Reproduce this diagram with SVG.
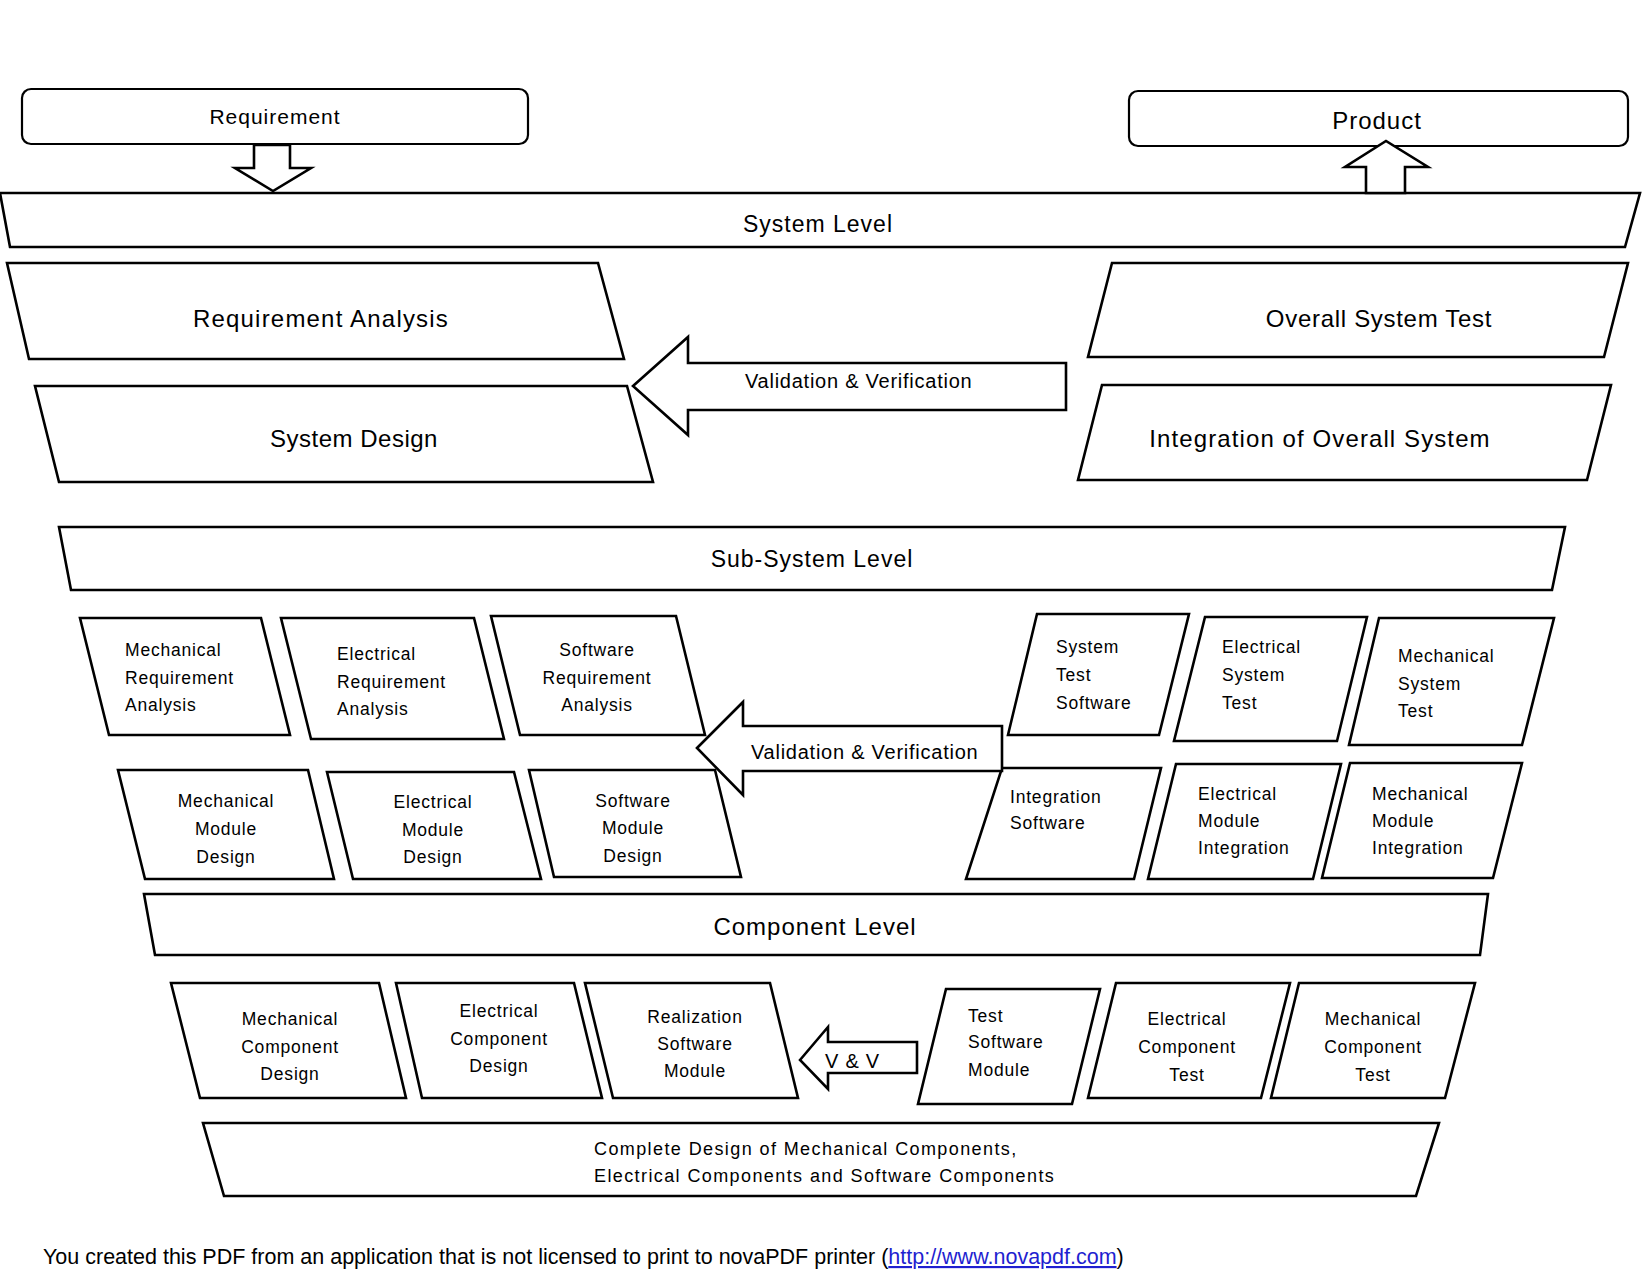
<svg xmlns="http://www.w3.org/2000/svg" width="1650" height="1275" viewBox="0 0 1650 1275">
<style>
.s{fill:#fff;stroke:#000;stroke-width:2.6;stroke-linejoin:miter}
.r{fill:#fff;stroke:#000;stroke-width:2.2}
.t{font-family:"Liberation Sans",Arial,sans-serif;fill:#000}
.big{font-size:24px;letter-spacing:0.9px}
.lvl{font-size:23px;letter-spacing:1px}
.vv{font-size:20px;letter-spacing:0.75px}
.sm{font-size:17.5px;letter-spacing:0.8px}
.cd{font-size:18px;letter-spacing:1.4px}
.m{text-anchor:middle}
.foot{font-size:21.5px}
</style>
<rect width="1650" height="1275" fill="#fff"/>

<g id="requirement">
<rect class="r" x="22" y="89" width="506" height="55" rx="9"/>
<text class="t m" x="275" y="124" style="font-size:21px;letter-spacing:1px">Requirement</text>
</g>
<g id="product">
<rect class="r" x="1129" y="91" width="499" height="55" rx="9"/>
<text class="t m" x="1377" y="129" style="font-size:24px;letter-spacing:1px">Product</text>
</g>

<g id="system-level">
<polygon class="s" points="0,193 1640,193 1625,247 10,247"/>
<text class="t lvl m" x="818" y="232">System Level</text>
</g>
<g id="requirement-analysis">
<polygon class="s" points="7,263 598,263 624,359 29,359"/>
<text class="t big m" x="321" y="327" style="letter-spacing:1.2px">Requirement Analysis</text>
</g>
<g id="system-design">
<polygon class="s" points="35,386 627,386 653,482 59,482"/>
<text class="t big m" x="354" y="447" style="letter-spacing:0.5px">System Design</text>
</g>
<g id="overall-system-test">
<polygon class="s" points="1112,263 1628,263 1604,357 1088,357"/>
<text class="t big m" x="1379" y="327" style="letter-spacing:0.7px">Overall System Test</text>
</g>
<g id="integration-overall-system">
<polygon class="s" points="1102,385 1611,385 1587,480 1078,480"/>
<text class="t big m" x="1320" y="447" style="letter-spacing:1.1px">Integration of Overall System</text>
</g>

<g id="sub-system-level">
<polygon class="s" points="59,527 1565,527 1552,590 71,590"/>
<text class="t lvl m" x="812" y="567">Sub-System Level</text>
</g>
<g id="mech-req-analysis">
<polygon class="s" points="80,618 261,618 290,735 109,735"/>
<text class="t sm"><tspan x="125" y="656">Mechanical</tspan><tspan x="125" y="684">Requirement</tspan><tspan x="125" y="711">Analysis</tspan></text>
</g>
<g id="elec-req-analysis">
<polygon class="s" points="281,618 474,618 504,739 311,739"/>
<text class="t sm"><tspan x="337" y="660">Electrical</tspan><tspan x="337" y="688">Requirement</tspan><tspan x="337" y="715">Analysis</tspan></text>
</g>
<g id="soft-req-analysis">
<polygon class="s" points="491,616 676,616 705,735 520,735"/>
<text class="t sm m"><tspan x="597" y="656">Software</tspan><tspan x="597" y="684">Requirement</tspan><tspan x="597" y="711">Analysis</tspan></text>
</g>
<g id="mech-module-design">
<polygon class="s" points="118,770 308,770 334,879 145,879"/>
<text class="t sm m"><tspan x="226" y="807">Mechanical</tspan><tspan x="226" y="835">Module</tspan><tspan x="226" y="863">Design</tspan></text>
</g>
<g id="elec-module-design">
<polygon class="s" points="327,772 514,772 541,879 353,879"/>
<text class="t sm m"><tspan x="433" y="808">Electrical</tspan><tspan x="433" y="836">Module</tspan><tspan x="433" y="863">Design</tspan></text>
</g>
<g id="soft-module-design">
<polygon class="s" points="529,770 715,770 741,877 554,877"/>
<text class="t sm m"><tspan x="633" y="807">Software</tspan><tspan x="633" y="834">Module</tspan><tspan x="633" y="862">Design</tspan></text>
</g>
<g id="system-test-software">
<polygon class="s" points="1037,614 1189,614 1159,735 1008,735"/>
<text class="t sm"><tspan x="1056" y="653">System</tspan><tspan x="1056" y="681">Test</tspan><tspan x="1056" y="709">Software</tspan></text>
</g>
<g id="elec-system-test">
<polygon class="s" points="1205,617 1367,617 1337,741 1174,741"/>
<text class="t sm"><tspan x="1222" y="653">Electrical</tspan><tspan x="1222" y="681">System</tspan><tspan x="1222" y="709">Test</tspan></text>
</g>
<g id="mech-system-test">
<polygon class="s" points="1379,618 1554,618 1522,745 1349,745"/>
<text class="t sm"><tspan x="1398" y="662">Mechanical</tspan><tspan x="1398" y="690">System</tspan><tspan x="1398" y="717">Test</tspan></text>
</g>
<g id="integration-software">
<polygon class="s" points="1002,768 1161,768 1134,879 966,879"/>
<text class="t sm"><tspan x="1010" y="803">Integration</tspan><tspan x="1010" y="829">Software</tspan></text>
</g>
<g id="elec-module-integration">
<polygon class="s" points="1176,764 1341,764 1313,879 1148,879"/>
<text class="t sm"><tspan x="1198" y="800">Electrical</tspan><tspan x="1198" y="827">Module</tspan><tspan x="1198" y="854">Integration</tspan></text>
</g>
<g id="mech-module-integration">
<polygon class="s" points="1350,763 1522,763 1493,878 1322,878"/>
<text class="t sm"><tspan x="1372" y="800">Mechanical</tspan><tspan x="1372" y="827">Module</tspan><tspan x="1372" y="854">Integration</tspan></text>
</g>

<g id="component-level">
<polygon class="s" points="144,894 1488,894 1480,955 155,955"/>
<text class="t lvl m" x="815" y="935" style="font-size:24px">Component Level</text>
</g>
<g id="mech-component-design">
<polygon class="s" points="171,983 379,983 406,1098 200,1098"/>
<text class="t sm m"><tspan x="290" y="1025">Mechanical</tspan><tspan x="290" y="1053">Component</tspan><tspan x="290" y="1080">Design</tspan></text>
</g>
<g id="elec-component-design">
<polygon class="s" points="396,983 574,983 602,1098 422,1098"/>
<text class="t sm m"><tspan x="499" y="1017">Electrical</tspan><tspan x="499" y="1045">Component</tspan><tspan x="499" y="1072">Design</tspan></text>
</g>
<g id="realization-software-module">
<polygon class="s" points="585,983 770,983 798,1098 613,1098"/>
<text class="t sm m"><tspan x="695" y="1023">Realization</tspan><tspan x="695" y="1050">Software</tspan><tspan x="695" y="1077">Module</tspan></text>
</g>
<g id="test-software-module">
<polygon class="s" points="946,989 1100,989 1072,1104 918,1104"/>
<text class="t sm"><tspan x="968" y="1022">Test</tspan><tspan x="968" y="1048">Software</tspan><tspan x="968" y="1076">Module</tspan></text>
</g>
<g id="elec-component-test">
<polygon class="s" points="1116,983 1290,983 1261,1098 1088,1098"/>
<text class="t sm m"><tspan x="1187" y="1025">Electrical</tspan><tspan x="1187" y="1053">Component</tspan><tspan x="1187" y="1081">Test</tspan></text>
</g>
<g id="mech-component-test">
<polygon class="s" points="1299,983 1475,983 1445,1098 1271,1098"/>
<text class="t sm m"><tspan x="1373" y="1025">Mechanical</tspan><tspan x="1373" y="1053">Component</tspan><tspan x="1373" y="1081">Test</tspan></text>
</g>
<g id="complete-design">
<polygon class="s" points="203,1123 1439,1123 1416,1196 224,1196"/>
<text class="t cd"><tspan x="594" y="1155">Complete Design of Mechanical Components,</tspan><tspan x="594" y="1182">Electrical Components and Software Components</tspan></text>
</g>

<g id="connectors">
<polygon class="s" points="254,145 290,145 290,168 311,168 273,191 235,168 254,168"/>
<polygon class="s" points="1366,193 1366,167 1345,167 1386,141 1428,167 1405,167 1405,193"/>
<polygon class="s" points="633,386 688,337 688,363 1066,363 1066,410 688,410 688,435"/>
<text class="t vv" x="745" y="388">Validation &amp; Verification</text>
<polygon class="s" points="697,748 743,702 743,726 1002,726 1002,771 743,771 743,795"/>
<text class="t vv" x="751" y="759">Validation &amp; Verification</text>
<polygon class="s" points="800,1060 828,1027 828,1042 917,1042 917,1073 828,1073 828,1089"/>
<text class="t vv" x="825" y="1068">V &amp; V</text>
</g>

<g id="footer">
<text class="t foot" x="43" y="1264">You created this PDF from an application that is not licensed to print to novaPDF printer (<tspan fill="#1f1fd0" text-decoration="underline">http://www.novapdf.com</tspan>)</text>
</g>
</svg>
